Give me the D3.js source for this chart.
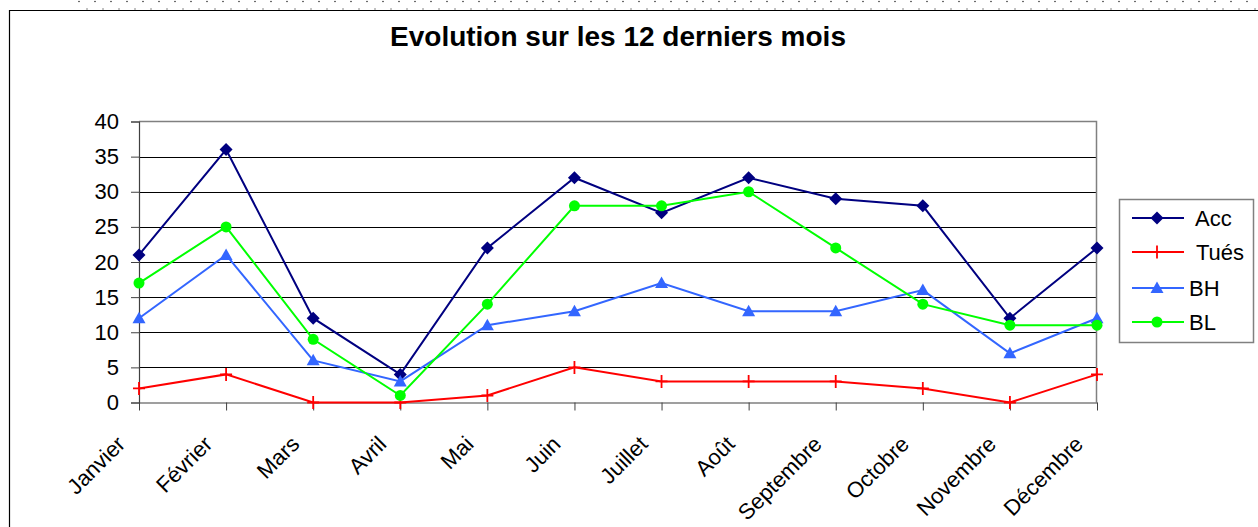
<!DOCTYPE html>
<html>
<head>
<meta charset="utf-8">
<script src="https://cdn.jsdelivr.net/npm/d3@7"></script>
<style>
  body { margin: 0; background: #fff; }
  svg { display: block; font-family: "Liberation Sans", Arial, sans-serif; }
</style>
</head>
<body>
<div id="chart"></div>
<script>
// data
const months = ['Janvier', 'Février', 'Mars', 'Avril', 'Mai', 'Juin', 'Juillet', 'Août', 'Septembre', 'Octobre', 'Novembre', 'Décembre'];
const acc = [21, 36, 12, 4, 22, 32, 27, 32, 29, 28, 12, 22];
const tues = [2, 4, 0, 0, 1, 5, 3, 3, 3, 2, 0, 4];
const bh = [12, 21, 6, 3, 11, 13, 17, 13, 13, 16, 7, 12];
const bl = [17, 25, 9, 1, 14, 28, 28, 30, 22, 14, 11, 11];
const yTicks = [0, 5, 10, 15, 20, 25, 30, 35, 40];
const seriesNames = ['Acc', 'Tués', 'BH', 'BL'];
const seriesColors = ['#000080', '#ff0000', '#3366ff', '#00ff00'];
const seriesMarkers = ['diamond', 'plus', 'triangle', 'circle'];

const width = 1258, height = 527;
const plot = { left: 139, right: 1097, top: 121.5, bottom: 402.5 };

const svg = d3.select('#chart').append('svg')
   .attr('width', width)
   .attr('height', height);

// page frame: dotted guide + border
const dotsX = d3.range(79, width, 16);
svg.append('g').selectAll('circle').data(dotsX).join('circle')
   .attr('cx', d => d).attr('cy', 1.5).attr('r', 0.8).attr('fill', '#333');
svg.append('g').selectAll('line').data(dotsX).join('line')
   .attr('x1', d => d + 8).attr('x2', d => d + 8)
   .attr('y1', 8).attr('y2', 10)
   .attr('stroke', '#666').attr('stroke-width', 0.8);
svg.append('path')
   .attr('d', `M9.5,${height} V10.5 H${width}`)
   .attr('fill', 'none').attr('stroke', '#000').attr('stroke-width', 1.2);

svg.append('text')
   .attr('x', 618).attr('y', 46)
   .attr('text-anchor', 'middle')
   .attr('font-size', 28).attr('font-weight', 'bold')
   .text('Evolution sur les 12 derniers mois');

const x = d3.scalePoint().domain(months).range([plot.left, plot.right]);
const y = d3.scaleLinear().domain([0, 40]).range([plot.bottom, plot.top]);

// gridlines
svg.append('g').selectAll('line').data(yTicks.filter(d => d > 0 && d < 40)).join('line')
   .attr('x1', plot.left).attr('x2', plot.right)
   .attr('y1', d => Math.round(y(d)) + 0.5).attr('y2', d => Math.round(y(d)) + 0.5)
   .attr('stroke', '#000').attr('stroke-width', 1);

// plot border (top/right)
svg.append('path')
   .attr('d', `M${plot.left},${plot.top} H${plot.right - 0.5} V${plot.bottom}`)
   .attr('fill', 'none').attr('stroke', '#808080').attr('stroke-width', 1.5);

// y axis
const yAxis = svg.append('g')
   .attr('transform', `translate(${plot.left},0)`)
   .call(d3.axisLeft(y).tickValues(yTicks).tickSize(8).tickPadding(12));
yAxis.select('.domain').attr('stroke', '#404040').attr('stroke-width', 1.2);
yAxis.selectAll('.tick line').attr('stroke', '#404040');
yAxis.selectAll('text')
   .attr('font-size', 22).attr('fill', '#000')
   .attr('font-family', '"Liberation Sans", Arial, sans-serif');

// x axis
const xAxis = svg.append('g')
   .attr('transform', `translate(0,${plot.bottom})`)
   .call(d3.axisBottom(x).tickSize(8).tickSizeOuter(0));
xAxis.select('.domain').attr('stroke', '#404040').attr('stroke-width', 1.2);
xAxis.selectAll('.tick line').attr('stroke', '#404040');
xAxis.selectAll('text')
   .attr('font-size', 22).attr('fill', '#000')
   .attr('font-family', '"Liberation Sans", Arial, sans-serif')
   .attr('text-anchor', 'end')
   .attr('dy', 0)
   .attr('y', 0)
   .attr('transform', 'translate(-13,43) rotate(-45)');

function marker(sel, type, color) {
   if (type === 'diamond') {
      sel.append('path').attr('d', 'M0,-6.5 L6.5,0 L0,6.5 L-6.5,0 Z').attr('fill', color);
   } else if (type === 'triangle') {
      sel.append('path').attr('d', 'M0,-6.5 L6.5,5 L-6.5,5 Z').attr('fill', color);
   } else if (type === 'circle') {
      sel.append('circle').attr('r', 5.5).attr('fill', color);
   } else {
      sel.append('path').attr('d', 'M-6,0 H6 M0,-6.5 V6.5')
         .attr('stroke', color).attr('stroke-width', 1.8).attr('fill', 'none');
   }
}

const allSeries = [acc, tues, bh, bl];
const line = d3.line().x((d, i) => x(months[i])).y(d => y(d));

allSeries.forEach((vals, s) => {
   const g = svg.append('g');
   g.append('path')
      .attr('d', line(vals))
      .attr('fill', 'none')
      .attr('stroke', seriesColors[s])
      .attr('stroke-width', 2);
   g.selectAll('g.pt').data(vals).join('g')
      .attr('class', 'pt')
      .attr('transform', (d, i) => `translate(${x(months[i])},${y(d)})`)
      .each(function () { marker(d3.select(this), seriesMarkers[s], seriesColors[s]); });
});

// legend
const legend = svg.append('g');
legend.append('rect')
   .attr('x', 1119.5).attr('y', 199.5).attr('width', 134).attr('height', 143)
   .attr('fill', '#fff').attr('stroke', '#808080').attr('stroke-width', 1.5);
const legendY = [218, 252, 288, 322];
const legendTextX = [1195, 1196, 1189, 1189];
seriesNames.forEach((name, s) => {
   const row = legend.append('g').attr('transform', `translate(0,${legendY[s]})`);
   row.append('line')
      .attr('x1', 1132).attr('x2', 1184)
      .attr('stroke', seriesColors[s]).attr('stroke-width', 2);
   marker(row.append('g').attr('transform', 'translate(1157,0)'), seriesMarkers[s], seriesColors[s]);
   row.append('text')
      .attr('x', legendTextX[s]).attr('y', 8)
      .attr('font-size', 22)
      .text(name);
});
</script>
</body>
</html>
